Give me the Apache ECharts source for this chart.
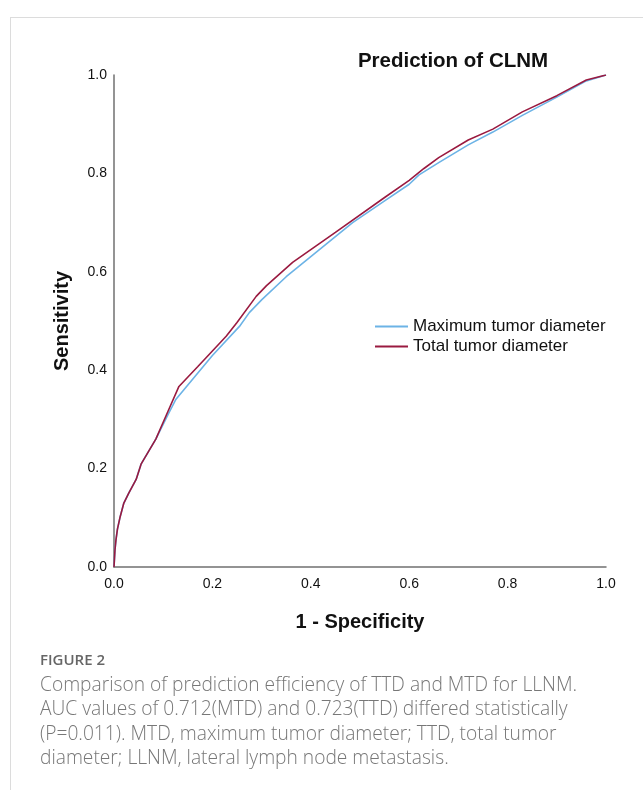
<!DOCTYPE html>
<html>
<head>
<meta charset="utf-8">
<title>Prediction of CLNM</title>
<script src="https://cdn.jsdelivr.net/npm/echarts@6/dist/echarts.min.js"></script>
<style>
  html, body { margin: 0; padding: 0; background: #fff; }
  #frame { position: absolute; left: 10px; top: 17px; width: 640px; height: 780px;
           border-top: 1px solid #dcdcdc; border-left: 1px solid #dcdcdc; }
  #main { position: absolute; left: 0; top: 0; width: 643px; height: 790px; }
</style>
</head>
<body>
<div id="frame"></div>
<div id="main"></div>
<script type="text/javascript">
// ROC curves (1 - specificity, sensitivity)
var mtdX = [0, 0.002, 0.004, 0.007, 0.012, 0.02, 0.03, 0.045, 0.055, 0.085, 0.11, 0.126, 0.2, 0.255, 0.275, 0.3, 0.35, 0.4, 0.485, 0.55, 0.6, 0.62, 0.66, 0.72, 0.77, 0.83, 0.9, 0.96, 1.0];
var mtdY = [0, 0.035, 0.055, 0.077, 0.1, 0.13, 0.15, 0.178, 0.209, 0.26, 0.31, 0.341, 0.43, 0.489, 0.517, 0.543, 0.59, 0.631, 0.70, 0.744, 0.778, 0.797, 0.822, 0.858, 0.884, 0.918, 0.955, 0.988, 1.0];

var ttdX = [0, 0.002, 0.004, 0.007, 0.012, 0.02, 0.03, 0.045, 0.055, 0.085, 0.11, 0.132, 0.17, 0.2, 0.228, 0.25, 0.289, 0.31, 0.363, 0.45, 0.55, 0.6, 0.63, 0.66, 0.72, 0.77, 0.83, 0.9, 0.96, 1.0];
var ttdY = [0, 0.035, 0.055, 0.077, 0.1, 0.13, 0.15, 0.178, 0.209, 0.26, 0.317, 0.367, 0.407, 0.439, 0.469, 0.497, 0.55, 0.572, 0.619, 0.68, 0.751, 0.786, 0.81, 0.832, 0.868, 0.89, 0.925, 0.958, 0.99, 1.0];

var seriesNames = ['Maximum tumor diameter', 'Total tumor diameter'];

var captionHead = 'FIGURE 2';
var captionLines = [
    'Comparison of prediction efficiency of TTD and MTD for LLNM.',
    'AUC values of 0.712(MTD) and 0.723(TTD) differed statistically',
    '(P=0.011). MTD, maximum tumor diameter; TTD, total tumor',
    'diameter; LLNM, lateral lymph node metastasis.'
];

function pairs(xs, ys) {
    return xs.map(function (x, i) { return [x, ys[i]]; });
}

var chartFont = '"Liberation Sans", Arial, sans-serif';
var captionFont = '"Open Sans", Lato, sans-serif';

var axisCommon = {
    type: 'value',
    min: 0,
    max: 1,
    interval: 0.2,
    splitLine: { show: false },
    axisTick: { show: false },
    axisLine: { show: true, lineStyle: { color: '#707070', width: 1.5 } },
    axisLabel: {
        color: '#111',
        fontSize: 14,
        fontFamily: chartFont,
        formatter: function (v) { return v.toFixed(1); }
    },
    nameLocation: 'middle',
    nameTextStyle: { color: '#111', fontSize: 20, fontWeight: 'bold', fontFamily: chartFont }
};

var captionGraphics = [{
    type: 'text', left: 40, top: 653,
    style: { text: captionHead, fill: '#666', font: '600 15px ' + captionFont }
}];
captionLines.forEach(function (line, i) {
    captionGraphics.push({
        type: 'text', left: 40, top: 676 + i * 24.3,
        style: { text: line, fill: '#777', font: '300 19.2px ' + captionFont }
    });
});

var myChart = echarts.init(document.getElementById('main'));
var option = {
    animation: false,
    title: {
        text: 'Prediction of CLNM',
        left: 448,
        top: 46,
        textAlign: 'center',
        textStyle: { color: '#111', fontSize: 20.5, fontWeight: 'bold', fontFamily: chartFont }
    },
    legend: {
        orient: 'vertical',
        left: 370,
        top: 313,
        icon: 'rect',
        itemWidth: 33,
        itemHeight: 2,
        itemGap: 3,
        textStyle: { color: '#111', fontSize: 17, fontFamily: chartFont },
        data: seriesNames
    },
    grid: { left: 114, top: 75, right: 37, bottom: 223, containLabel: false },
    xAxis: Object.assign({}, axisCommon, {
        name: '1 - Specificity',
        nameGap: 45,
        axisLabel: Object.assign({}, axisCommon.axisLabel, { margin: 10 })
    }),
    yAxis: Object.assign({}, axisCommon, {
        name: 'Sensitivity',
        nameGap: 42,
        axisLabel: Object.assign({}, axisCommon.axisLabel, { margin: 7 })
    }),
    series: [{
        name: seriesNames[0],
        type: 'line',
        symbol: 'none',
        smooth: false,
        lineStyle: { color: '#6cb3e6', width: 1.6 },
        itemStyle: { color: '#6cb3e6' },
        data: pairs(mtdX, mtdY)
    }, {
        name: seriesNames[1],
        type: 'line',
        symbol: 'none',
        smooth: false,
        lineStyle: { color: '#9a1a40', width: 1.6 },
        itemStyle: { color: '#9a1a40' },
        data: pairs(ttdX, ttdY)
    }],
    graphic: captionGraphics
};
myChart.setOption(option);
</script>
</body>
</html>
